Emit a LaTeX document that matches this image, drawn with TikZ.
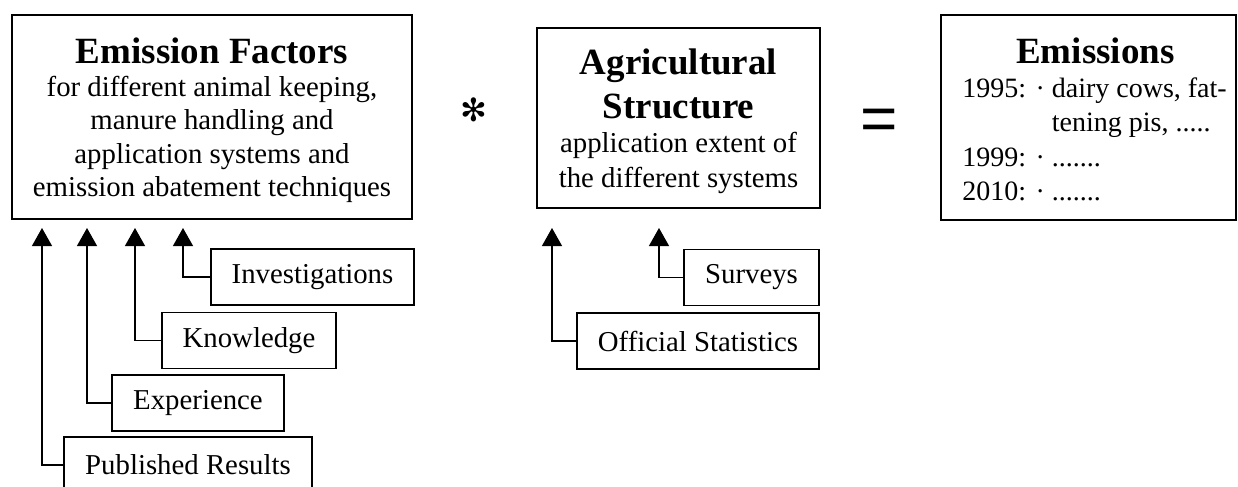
\documentclass[tikz,border=0pt]{standalone}
\usepackage{fontspec}
\setmainfont{Liberation Serif}
\setsansfont{Liberation Sans}
\newfontfamily\symfont{DejaVu Sans}
\usetikzlibrary{arrows.meta}
\newcommand{\titlefnt}{\fontsize{18.5}{17}\selectfont\bfseries}

\begin{document}
\begin{tikzpicture}[
    x=0.5pt, y=-0.5pt,
    font=\fontsize{14.4}{16.7}\selectfont,
    mainbox/.style={draw, line width=1.1pt, inner sep=0pt},
    boxtext/.style={inner sep=0pt, anchor=base, execute at begin node={\spaceskip=0pt\xspaceskip=0pt\centering}},
    srcbox/.style={draw, line width=0.6pt, inner sep=0pt, minimum height=28pt},
    arr/.style={-{Triangle[length=9pt, width=10pt]}, line width=0.6pt}
]

\path[use as bounding box, clip] (0,0) rectangle (1238,487);

% Factors
\node[mainbox, minimum width=200pt, minimum height=102pt] (ef) at (212,117) {};
\node[boxtext, text width=196pt] (eftxt) at (212,63)
    {{\titlefnt Emission Factors\par}for different animal keeping,\\ manure handling and\\ application systems and\\ emission abatement techniques};

% Structure
\node[mainbox, minimum width=141.5pt, minimum height=90pt] (as) at (678.5,118) {};
\node[boxtext, text width=138pt, font=\fontsize{14.4}{17.5}\selectfont] (astxt) at (678.5,75)
    {{\fontsize{18.5}{21.5}\selectfont\bfseries Agricultural\\ Structure\par}application extent of\\ the different systems};

% Result
\node[mainbox, minimum width=147.5pt, minimum height=102.5pt] (em) at (1088.5,117.5) {};
\node[boxtext, anchor=base west, text width=133pt, execute at begin node=\raggedright, font=\fontsize{14}{17.2}\selectfont] (emtxt) at (962,63)
    {{\centering\titlefnt Emissions\par}1995: · dairy cows, fat-\\ \hphantom{1995: · }tening pis, .....\\ 1999: · .......\\ 2010: · .......};

% Operators
\node (mul) at (474,110) {\symfont\fontsize{16}{16}\selectfont ✻};
\node (eq) at (879,125) {\sffamily\fontsize{32}{32}\selectfont =};

% Sources
\node[srcbox, minimum width=101.5pt] (inv) at (312.5,277) {Investigations};
\node[srcbox, minimum width=87pt] (know) at (249,340.5) {Knowledge};
\node[srcbox, minimum width=86pt] (exp) at (198,403) {Experience};
\node[srcbox, minimum width=124pt] (pub) at (188,465) {Published Results};
\node[srcbox, minimum width=67.5pt] (surv) at (751.5,277.5) {Surveys};
\node[srcbox, minimum width=121pt] (stat) at (698,341) {Official Statistics};

% Arrow tips
\coordinate (t1) at (42,228);
\coordinate (t2) at (87,228);
\coordinate (t3) at (135,228);
\coordinate (t4) at (183,228);
\coordinate (t5) at (552,228);
\coordinate (t6) at (659,228);

% Arrows
\draw[arr] (pub.west) -| (t1);
\draw[arr] (exp.west) -| (t2);
\draw[arr] (know.west) -| (t3);
\draw[arr] (inv.west) -| (t4);
\draw[arr] (stat.west) -| (t5);
\draw[arr] (surv.west) -| (t6);

\end{tikzpicture}
\end{document}
